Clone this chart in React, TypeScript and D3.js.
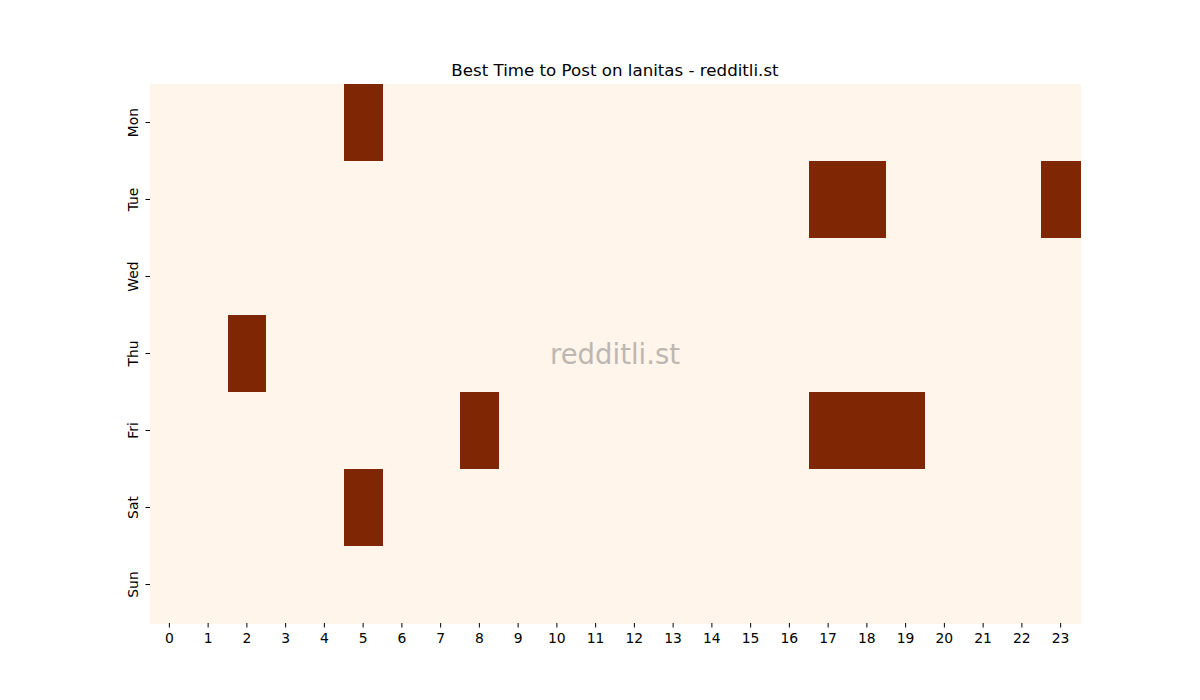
import React from "react";
import * as d3 from "d3";

const days = ["Mon", "Tue", "Wed", "Thu", "Fri", "Sat", "Sun"];
const hours = d3.range(24).map(String);
// value 1 = best time; each row lists hours with a mark
const monHours = [5];
const tueHours = [17, 18, 23];
const wedHours: number[] = [];
const thuHours = [2];
const friHours = [8, 17, 18, 19];
const satHours = [5];
const sunHours: number[] = [];
const marked = [monHours, tueHours, wedHours, thuHours, friHours, satHours, sunHours];

const W = 1200, H = 700;
const left = 150, right = 1080, top = 84, bottom = 623;

export default function App() {
  const x = d3.scaleBand<string>().domain(hours).range([left, right]);
  const y = d3.scaleBand<string>().domain(days).range([top, bottom]);
  const color = d3.scaleLinear<string>().domain([0, 1]).range(["#fff5eb", "#7f2704"]);
  const font = "DejaVu Sans, sans-serif";
  const cells: { d: string; h: string; v: number }[] = [];
  days.forEach((d, i) => hours.forEach((h, j) => cells.push({ d, h, v: marked[i].includes(j) ? 1 : 0 })));
  return (
    <svg width={W} height={H} style={{ position: "absolute", left: 0, top: 0, background: "#fff" }}>
      <rect x={0} y={0} width={W} height={H} fill="#fff" />
      <g shapeRendering="crispEdges">
        {cells.map((c, i) => (
          <rect key={i} x={x(c.h)} y={y(c.d)} width={x.bandwidth() + 0.5} height={y.bandwidth() + 0.5} fill={color(c.v)} />
        ))}
      </g>
      <text x={(left + right) / 2} y={top - 8} textAnchor="middle" fontFamily={font} fontSize={16.67} fill="#000">
        Best Time to Post on lanitas - redditli.st
      </text>
      <text x={(left + right) / 2} y={(top + bottom) / 2} textAnchor="middle" dominantBaseline="central" fontFamily={font} fontSize={27.5} fill="#bdb7b1">
        redditli.st
      </text>
      {hours.map((h) => {
        const cx = x(h)! + x.bandwidth() / 2;
        return (
          <g key={h}>
            <line x1={cx} x2={cx} y1={bottom} y2={bottom + 4.5} stroke="#000" strokeWidth={1} />
            <text x={cx} y={bottom + 19.5} textAnchor="middle" fontFamily={font} fontSize={13.9} fill="#000">{h}</text>
          </g>
        );
      })}
      {days.map((d) => {
        const cy = y(d)! + y.bandwidth() / 2;
        return (
          <g key={d}>
            <line x1={left - 4.5} x2={left} y1={cy} y2={cy} stroke="#000" strokeWidth={1} />
            <text transform={`translate(${left - 12.5},${cy}) rotate(-90)`} textAnchor="middle" fontFamily={font} fontSize={13.9} fill="#000">{d}</text>
          </g>
        );
      })}
    </svg>
  );
}
